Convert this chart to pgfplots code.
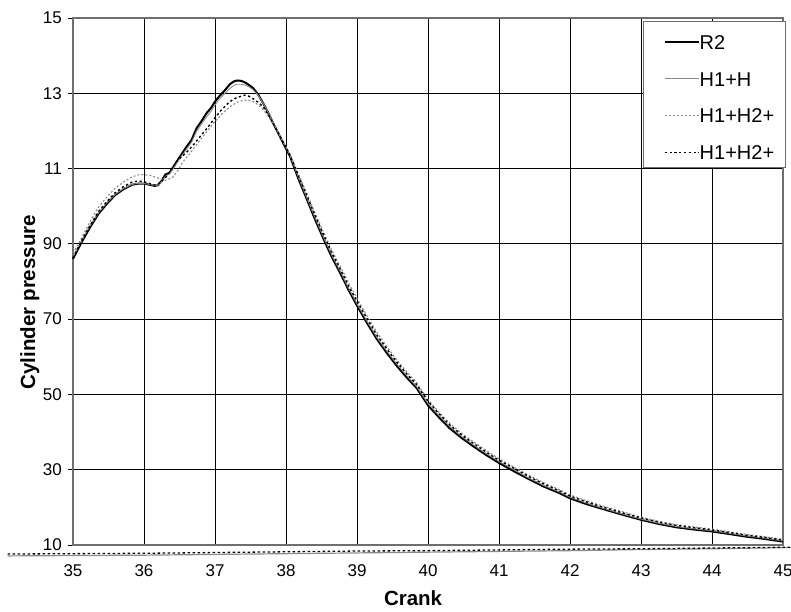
\documentclass[border=0pt]{standalone}
\usepackage{pgfplots}
\pgfplotsset{compat=1.18}
\usepackage{fontspec}
\setmainfont{Liberation Sans}
\definecolor{lgray}{HTML}{8C8C8C}
\definecolor{dgray}{HTML}{8A8A8A}
\definecolor{frame}{HTML}{6E6E6E}
\begin{document}
\begin{tikzpicture}
\begin{axis}[
  at={(0pt,0pt)}, anchor=south west,
  scale only axis, width=710pt, height=527pt,
  xmin=35, xmax=45, ymin=10, ymax=150,
  xtick={35,36,...,45}, ytick={10,30,...,150},
  yticklabels={10,30,50,70,90,11,13,15},
  grid=major, major grid style={black, line width=0.8pt},
  axis line style={draw=frame, line width=1.3pt},
  tick align=outside, major tick length=5pt,
  xtick style={draw=none}, ytick style={black, line width=0.8pt},
  ytick pos=left,
  clip=false,
  /pgf/number format/assume math mode=true,
  every tick label/.append style={font=\fontsize{17}{20}\selectfont},
  xticklabel style={anchor=base, yshift=-26pt},
  yticklabel style={anchor=east, inner sep=0pt, xshift=-6pt},
  xlabel={Crank}, ylabel={Cylinder pressure},
  label style={font=\bfseries\fontsize{20.5}{24}\selectfont},
  xlabel style={at={(axis description cs:0.479,-0.1152)}, anchor=base},
  ylabel style={at={(axis description cs:-0.0535,0.461)}, anchor=base},
  legend style={at={(axis description cs:1.0038,0.9949)}, anchor=north east,
    draw=frame, line width=1pt, fill=white,
    font=\fontsize{20}{24}\selectfont,
    inner xsep=11pt, inner ysep=8.15pt, row sep=16.7pt, column sep=0pt,
    nodes={inner sep=0pt, text height=20pt, text depth=0pt}},
  legend cell align=left,
  legend image code/.code={\path (0pt,0pt); \draw[#1] (9pt,-2.85pt) -- (43pt,-2.85pt);},
]
% R2
\addplot[black, line width=2pt] coordinates {
(35.00,86.0)(35.12,90.4)(35.24,94.4)(35.36,98.0)(35.48,100.7)(35.59,102.9)(35.71,104.5)(35.83,105.7)(35.92,106.0)(36.00,106.0)(36.08,105.7)(36.15,105.4)(36.20,105.6)(36.25,106.8)(36.30,108.4)(36.36,108.9)(36.42,110.6)(36.50,113.0)(36.60,115.8)(36.67,117.6)(36.74,120.7)(36.81,122.6)(36.88,124.7)(36.94,126.0)(37.00,127.8)(37.06,129.2)(37.12,130.4)(37.21,132.4)(37.26,133.1)(37.31,133.4)(37.37,133.3)(37.42,132.9)(37.48,132.2)(37.54,131.3)(37.61,129.6)(37.68,127.3)(37.75,124.8)(37.82,122.0)(37.91,118.7)(38.00,115.3)(38.06,113.1)(38.17,107.5)(38.29,102.0)(38.42,96.0)(38.55,90.4)(38.65,86.3)(38.76,82.4)(38.88,77.8)(39.00,73.6)(39.14,69.0)(39.28,64.7)(39.42,61.0)(39.56,57.6)(39.70,54.5)(39.84,51.7)(40.00,47.1)(40.15,44.0)(40.30,41.1)(40.47,38.5)(40.64,36.2)(40.82,33.9)(41.00,31.8)(41.20,29.7)(41.39,27.8)(41.62,25.6)(41.85,23.8)(42.00,22.4)(42.21,21.0)(42.42,19.8)(42.71,18.2)(43.00,16.7)(43.25,15.6)(43.50,14.7)(43.75,14.1)(44.00,13.6)(44.25,12.9)(44.49,12.2)(44.75,11.6)(45.00,10.9)};
\addlegendentry{R2}
% H1+H
\addplot[lgray, line width=0.9pt] coordinates {
(35.00,86.5)(35.12,90.8)(35.24,94.8)(35.36,98.3)(35.48,101.0)(35.59,103.1)(35.71,104.7)(35.83,105.8)(35.92,106.1)(36.00,106.0)(36.08,105.8)(36.15,105.5)(36.20,105.6)(36.25,106.5)(36.30,107.9)(36.36,108.6)(36.42,110.2)(36.50,112.5)(36.60,115.2)(36.67,117.0)(36.74,119.9)(36.81,121.8)(36.88,123.7)(36.94,125.1)(37.00,126.9)(37.06,128.4)(37.12,129.6)(37.21,131.3)(37.26,132.0)(37.31,132.4)(37.37,132.4)(37.42,132.2)(37.48,131.7)(37.54,130.9)(37.61,129.4)(37.68,127.3)(37.75,124.9)(37.82,122.2)(37.91,118.9)(38.00,115.6)(38.06,113.4)(38.17,107.9)(38.29,102.4)(38.42,96.5)(38.55,90.9)(38.65,86.8)(38.76,82.9)(38.88,78.3)(39.00,74.1)(39.14,69.5)(39.28,65.2)(39.42,61.5)(39.56,58.1)(39.70,55.0)(39.84,52.1)(40.00,47.6)(40.15,44.5)(40.30,41.6)(40.47,38.9)(40.64,36.6)(40.82,34.3)(41.00,32.2)(41.20,30.1)(41.39,28.1)(41.62,25.9)(41.85,24.1)(42.00,22.7)(42.21,21.3)(42.42,20.0)(42.71,18.4)(43.00,16.9)(43.25,15.8)(43.50,14.9)(43.75,14.3)(44.00,13.8)(44.25,13.1)(44.49,12.4)(44.75,11.8)(45.00,11.1)};
\addlegendentry{H1+H}
% H1+H2+ (gray dotted)
\addplot[dgray, line width=1.1pt, dash pattern=on 2pt off 2pt] coordinates {
(35.00,87.5)(35.12,91.5)(35.24,95.9)(35.36,99.8)(35.48,102.5)(35.59,104.7)(35.71,106.4)(35.83,107.8)(35.92,108.3)(36.00,108.4)(36.08,108.2)(36.15,107.8)(36.22,107.3)(36.30,106.9)(36.40,107.6)(36.48,109.6)(36.55,111.8)(36.67,114.6)(36.79,117.6)(36.90,120.2)(37.00,122.5)(37.10,124.6)(37.21,126.4)(37.30,127.5)(37.40,128.2)(37.47,128.1)(37.54,127.8)(37.61,126.9)(37.68,125.6)(37.75,123.9)(37.82,121.8)(37.91,118.9)(38.00,115.8)(38.06,113.7)(38.17,108.8)(38.29,103.5)(38.42,97.7)(38.55,92.2)(38.65,88.1)(38.76,84.2)(38.88,79.7)(39.00,75.5)(39.14,70.9)(39.28,66.5)(39.42,62.7)(39.56,59.2)(39.70,56.0)(39.84,53.1)(40.00,48.6)(40.15,45.4)(40.30,42.4)(40.47,39.7)(40.64,37.4)(40.82,35.1)(41.00,32.9)(41.20,30.8)(41.39,28.8)(41.62,26.6)(41.85,24.7)(42.00,23.3)(42.21,21.9)(42.42,20.6)(42.71,19.0)(43.00,17.4)(43.25,16.3)(43.50,15.4)(43.75,14.8)(44.00,14.2)(44.25,13.5)(44.49,12.8)(44.75,12.2)(45.00,11.5)};
\addlegendentry{H1+H2+}
% H1+H2+ (black dotted)
\addplot[black, line width=1.4pt, dash pattern=on 2.2pt off 2.6pt] coordinates {
(35.00,86.3)(35.12,90.8)(35.24,94.9)(35.36,98.6)(35.48,101.3)(35.59,103.5)(35.71,105.2)(35.83,106.4)(35.92,106.7)(36.00,106.5)(36.08,106.0)(36.15,105.6)(36.22,106.2)(36.30,107.5)(36.38,109.6)(36.46,112.0)(36.60,114.3)(36.70,116.4)(36.79,118.5)(36.90,121.0)(37.00,123.5)(37.10,125.8)(37.21,127.8)(37.31,128.9)(37.42,129.5)(37.48,129.2)(37.54,128.5)(37.61,127.6)(37.68,126.3)(37.75,124.4)(37.82,122.0)(37.91,118.8)(38.00,115.6)(38.06,113.4)(38.17,108.3)(38.29,103.0)(38.42,97.1)(38.55,91.5)(38.65,87.4)(38.76,83.5)(38.88,78.9)(39.00,74.8)(39.14,70.2)(39.28,65.8)(39.42,62.1)(39.56,58.6)(39.70,55.5)(39.84,52.6)(40.00,48.2)(40.15,45.0)(40.30,42.0)(40.47,39.3)(40.64,37.0)(40.82,34.7)(41.00,32.5)(41.20,30.5)(41.39,28.5)(41.62,26.3)(41.85,24.4)(42.00,23.0)(42.21,21.6)(42.42,20.3)(42.71,18.7)(43.00,17.2)(43.25,16.1)(43.50,15.2)(43.75,14.6)(44.00,14.0)(44.25,13.3)(44.49,12.6)(44.75,12.0)(45.00,11.3)};
\addlegendentry{H1+H2+}
% stray series along the bottom
\addplot[forget plot, dgray, line width=1.2pt] coordinates {
(34.08,7.1)(35.0,7.2)(36.0,7.3)(37.0,7.5)(38.0,7.7)(39.0,7.9)(40.0,8.1)(41.0,8.3)(42.0,8.5)(43.0,8.8)(44.0,9.0)(45.0,9.3)(45.1,9.3)};
\addplot[forget plot, black, line width=1.3pt, dash pattern=on 2.5pt off 2.5pt] coordinates {
(34.08,7.6)(35.0,7.7)(36.0,7.8)(37.0,8.0)(38.0,8.2)(39.0,8.4)(40.0,8.5)(41.0,8.7)(42.0,8.9)(43.0,9.0)(44.0,9.2)(45.0,9.4)(45.1,9.4)};
\end{axis}
\pgfresetboundingbox
\path (-73pt,-66pt) rectangle (718pt,545pt);
\end{tikzpicture}
\end{document}
